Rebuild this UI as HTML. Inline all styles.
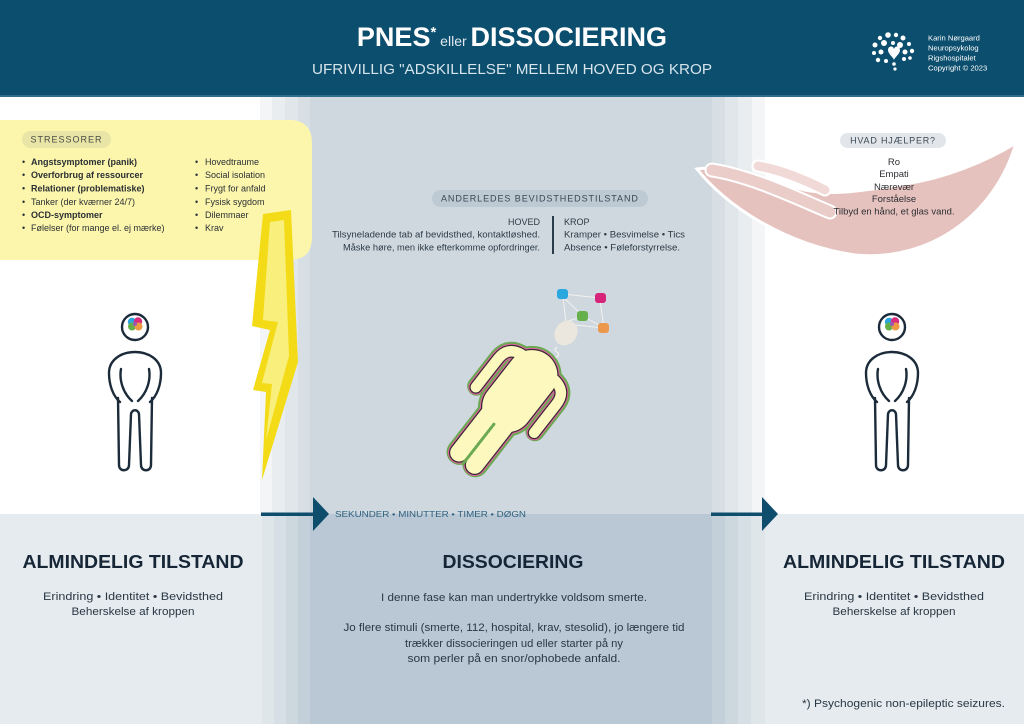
<!DOCTYPE html>
<html><head><meta charset="utf-8"><style>
html,body{margin:0;padding:0;background:#fff;}
svg{display:block;}
text{font-family:"Liberation Sans",sans-serif;}
</style></head><body>
<svg width="1024" height="724" viewBox="0 0 1024 724" xmlns="http://www.w3.org/2000/svg">
<!-- backgrounds -->
<rect x="0" y="0" width="1024" height="724" fill="#ffffff"/>
<!-- upper bands -->
<rect x="260" y="97" width="12" height="417" fill="#f3f5f7"/>
<rect x="272" y="97" width="13" height="417" fill="#e9edf0"/>
<rect x="285" y="97" width="13" height="417" fill="#e0e6ea"/>
<rect x="298" y="97" width="12" height="417" fill="#d8dfe4"/>
<rect x="310" y="97" width="402" height="417" fill="#cfd8df"/>
<rect x="712" y="97" width="13" height="417" fill="#d8dfe4"/>
<rect x="725" y="97" width="13" height="417" fill="#e0e6ea"/>
<rect x="738" y="97" width="14" height="417" fill="#e9edf0"/>
<rect x="752" y="97" width="13" height="417" fill="#f3f5f7"/>
<!-- lower -->
<rect x="0" y="514" width="1024" height="210" fill="#e5ebee"/>
<rect x="262" y="514" width="12" height="210" fill="#dfe6ea"/>
<rect x="274" y="514" width="12" height="210" fill="#d6dfe5"/>
<rect x="286" y="514" width="12" height="210" fill="#ccd7de"/>
<rect x="298" y="514" width="12" height="210" fill="#c3d0d9"/>
<rect x="310" y="514" width="402" height="210" fill="#b9c8d4"/>
<rect x="712" y="514" width="13" height="210" fill="#c3d0d9"/>
<rect x="725" y="514" width="13" height="210" fill="#ccd7de"/>
<rect x="738" y="514" width="13" height="210" fill="#d6dfe5"/>
<rect x="751" y="514" width="14" height="210" fill="#dfe6ea"/>

<!-- header -->
<rect x="0" y="0" width="1024" height="97" fill="#0c4e6d"/>
<rect x="0" y="95" width="1024" height="2" fill="#2f6d8a"/>
<text x="512" y="46" text-anchor="middle" fill="#ffffff"><tspan font-weight="bold" font-size="27">PNES</tspan><tspan font-weight="bold" font-size="15" dy="-9">*</tspan><tspan font-size="14" dy="9" fill="#dfe9ef"> eller </tspan><tspan font-weight="bold" font-size="27">DISSOCIERING</tspan></text>
<text x="512" y="74" text-anchor="middle" fill="#d6e4ec" font-size="15" textLength="400" lengthAdjust="spacingAndGlyphs">UFRIVILLIG "ADSKILLELSE" MELLEM HOVED OG KROP</text>
<!-- logo -->
<g fill="#ffffff">
<circle cx="880" cy="38" r="2.2"/><circle cx="888" cy="35" r="2.8"/><circle cx="896" cy="35" r="2.2"/><circle cx="903" cy="38" r="2.5"/>
<circle cx="875" cy="45" r="2.5"/><circle cx="884" cy="43" r="3"/><circle cx="893" cy="43" r="2"/><circle cx="900" cy="45" r="3"/><circle cx="909" cy="44" r="2"/>
<circle cx="874" cy="53" r="2"/><circle cx="881" cy="52" r="2.5"/><circle cx="905" cy="52" r="2.5"/><circle cx="912" cy="51" r="2.2"/>
<circle cx="878" cy="60" r="2.2"/><circle cx="886" cy="61" r="2"/><circle cx="904" cy="59" r="2"/><circle cx="910" cy="58" r="1.8"/>
<path d="M888 50 C888 46,893 45,894 49 C895 45,900 46,900 50 C900 54,894 58,894 60 C894 58,888 54,888 50 Z"/>
<circle cx="894" cy="64" r="1.8"/><circle cx="895" cy="69" r="1.6"/>
</g>
<g fill="#ffffff" font-size="7.6">
<text x="928" y="40.5">Karin Nørgaard</text>
<text x="928" y="50.5">Neuropsykolog</text>
<text x="928" y="60.5">Rigshospitalet</text>
<text x="928" y="70.5">Copyright © 2023</text>
</g>

<!-- stressorer box -->
<path d="M0 120 H289 Q312 120 312 143 V237 Q312 260 289 260 H0 Z" fill="#fcf6ad"/>
<rect x="22" y="131" width="89" height="17" rx="8.5" fill="#e9e5a6"/>
<text x="66.5" y="142.5" text-anchor="middle" font-size="9" fill="#4a4d45" letter-spacing="1">STRESSORER</text>
<g font-size="9" fill="#2a2f33">
<text x="22" y="165">•</text><text x="31" y="165" font-weight="bold">Angstsymptomer (panik)</text>
<text x="22" y="178">•</text><text x="31" y="178" font-weight="bold">Overforbrug af ressourcer</text>
<text x="22" y="191.5">•</text><text x="31" y="191.5" font-weight="bold">Relationer (problematiske)</text>
<text x="22" y="205">•</text><text x="31" y="205">Tanker (der kværner 24/7)</text>
<text x="22" y="218">•</text><text x="31" y="218" font-weight="bold">OCD-symptomer</text>
<text x="22" y="231">•</text><text x="31" y="231">Følelser (for mange el. ej mærke)</text>
<text x="195" y="165">•</text><text x="205" y="165">Hovedtraume</text>
<text x="195" y="178">•</text><text x="205" y="178">Social isolation</text>
<text x="195" y="191.5">•</text><text x="205" y="191.5">Frygt for anfald</text>
<text x="195" y="205">•</text><text x="205" y="205">Fysisk sygdom</text>
<text x="195" y="218">•</text><text x="205" y="218">Dilemmaer</text>
<text x="195" y="231">•</text><text x="205" y="231">Krav</text>
</g>

<!-- lightning -->
<path d="M263 214 L291 210 L298 362 L262 480 L266 392 L253 390 L270 330 L252 326 Z" fill="#f3dc17"/>
<path d="M270 222 L284 220 L289 356 L266 440 L272 384 L262 383 L278 322 L263 320 Z" fill="#f9ef7c"/>

<!-- middle top -->
<rect x="432" y="190" width="216" height="17" rx="8.5" fill="#bdc9d3"/>
<text x="540" y="201.5" text-anchor="middle" font-size="9" fill="#3a4955" letter-spacing="1.1" textLength="198">ANDERLEDES BEVIDSTHEDSTILSTAND</text>
<g font-size="9" fill="#2c3a46">
<text x="540" y="225" text-anchor="end">HOVED</text>
<text x="540" y="237.5" text-anchor="end" textLength="208" lengthAdjust="spacingAndGlyphs">Tilsyneladende tab af bevidsthed, kontaktløshed.</text>
<text x="540" y="250.5" text-anchor="end" textLength="197" lengthAdjust="spacingAndGlyphs">Måske høre, men ikke efterkomme opfordringer.</text>
<text x="564" y="225">KROP</text>
<text x="564" y="237.5" textLength="121" lengthAdjust="spacingAndGlyphs">Kramper •  Besvimelse • Tics</text>
<text x="564" y="250.5" textLength="116" lengthAdjust="spacingAndGlyphs">Absence • Føleforstyrrelse.</text>
</g>
<rect x="552" y="216" width="2" height="38" fill="#2a3c4c"/>

<!-- right hand -->
<g>
<path d="M697 169 C725 205,785 245,855 255 C930 262,995 215,1016 143 C985 162,945 178,905 184 C865 190,835 196,805 190 C765 182,725 164,697 169 Z" fill="#e6c2bf" stroke="#ffffff" stroke-width="3"/>
<path d="M712 170 C750 176,790 195,830 212" stroke="#ffffff" stroke-width="15" fill="none" stroke-linecap="round"/>
<path d="M712 170 C750 176,790 195,830 212" stroke="#eaccc9" stroke-width="11" fill="none" stroke-linecap="round"/>
<path d="M758 166 C782 170,805 180,825 190" stroke="#ffffff" stroke-width="13" fill="none" stroke-linecap="round"/>
<path d="M758 166 C782 170,805 180,825 190" stroke="#f0d9d6" stroke-width="9" fill="none" stroke-linecap="round"/>
</g>
<rect x="840" y="133" width="106" height="15" rx="7.5" fill="#e2e6ea"/>
<text x="893" y="143.5" text-anchor="middle" font-size="9" fill="#3a4955" letter-spacing="0.8">HVAD HJÆLPER?</text>
<g font-size="9.5" fill="#2c2f33" text-anchor="middle">
<text x="894" y="165">Ro</text>
<text x="894" y="177">Empati</text>
<text x="894" y="190">Nærevær</text>
<text x="894" y="202">Forståelse</text>
<text x="894" y="214.5">Tilbyd en hånd, et glas vand.</text>
</g>

<!-- left figure -->
<g transform="translate(135,0)" fill="none" stroke="#1c2b3a" stroke-width="2.4" stroke-linecap="round" stroke-linejoin="round">
<circle cx="0" cy="327" r="13" fill="#ffffff"/>
<path d="M-15 402 C-22 396,-26 385,-26 373 C-26 360,-14 352,0 352 C14 352,26 360,26 373 C26 385,22 396,15 402"/>
<path d="M-14 369 C-16 380,-12 393,-3 401 M14 369 C16 380,12 393,3 401"/>
<path d="M-17 398 L-16 465 C-16 472,-6 472,-6 465 L-4 414 C-3 409,3 409,4 414 L6 465 C6 472,16 472,16 465 L17 398"/>
</g>
<g transform="translate(135,324)">
<circle cx="-3" cy="-2" r="4.2" fill="#2aa6df"/><circle cx="3" cy="-2.5" r="4.2" fill="#d92c7f"/>
<circle cx="-3" cy="2.5" r="4" fill="#63b04a"/><circle cx="3.5" cy="2.5" r="4" fill="#ee9a42"/>
<circle cx="0" cy="0" r="2" fill="#9b59b6"/>
</g>

<!-- right figure -->
<g transform="translate(892,0)" fill="none" stroke="#1c2b3a" stroke-width="2.4" stroke-linecap="round" stroke-linejoin="round">
<circle cx="0" cy="327" r="13" fill="#ffffff"/>
<path d="M-15 402 C-22 396,-26 385,-26 373 C-26 360,-14 352,0 352 C14 352,26 360,26 373 C26 385,22 396,15 402"/>
<path d="M-14 369 C-16 380,-12 393,-3 401 M14 369 C16 380,12 393,3 401"/>
<path d="M-17 398 L-16 465 C-16 472,-6 472,-6 465 L-4 414 C-3 409,3 409,4 414 L6 465 C6 472,16 472,16 465 L17 398"/>
</g>
<g transform="translate(892,324)">
<circle cx="-3" cy="-2" r="4.2" fill="#2aa6df"/><circle cx="3" cy="-2.5" r="4.2" fill="#d92c7f"/>
<circle cx="-3" cy="2.5" r="4" fill="#63b04a"/><circle cx="3.5" cy="2.5" r="4" fill="#ee9a42"/>
<circle cx="0" cy="0" r="2" fill="#9b59b6"/>
</g>

<!-- middle lying figure -->
<g stroke="#f2f2ee" stroke-width="1" fill="none">
<path d="M566 322 L563 297 M566 322 L583 316 M566 324 L604 328 M563 294 L600 298 M563 297 L583 316 M600 300 L604 328 M583 316 L604 328"/>
</g>
<path d="M557 347 q-4 3 0 5 q4 3 -2 6" stroke="#f2f2ee" stroke-width="1.2" fill="none"/>
<ellipse cx="566" cy="333" rx="11" ry="13" transform="rotate(35 566 333)" fill="#ebe7de"/>
<g>
<rect x="557" y="289" width="11" height="10" rx="3" fill="#29a8e0"/>
<rect x="595" y="293" width="11" height="10" rx="3" fill="#d8237b"/>
<rect x="577" y="311" width="11" height="10" rx="3" fill="#66b04c"/>
<rect x="598" y="323" width="11" height="10" rx="3" fill="#eb984c"/>
</g>
<g transform="translate(505,410) rotate(38)" fill="none" stroke-linecap="round" stroke-linejoin="round">
<g stroke="#6aaa52" stroke-dasharray="2 1.5">
<path d="M0 -44 L0 -4" stroke-width="59"/>
<path d="M-21 -54 Q-37 -52 -37 -36 L-37 0" stroke-width="19"/>
<path d="M21 -54 Q37 -52 37 -36 L37 0" stroke-width="19"/>
<path d="M-10 10 L-10 62" stroke-width="26"/>
<path d="M10 10 L10 62" stroke-width="26"/>
</g>
<g stroke="#e0649f">
<path d="M0 -44 L0 -4" stroke-width="55"/>
<path d="M-21 -54 Q-37 -52 -37 -36 L-37 0" stroke-width="15"/>
<path d="M21 -54 Q37 -52 37 -36 L37 0" stroke-width="15"/>
<path d="M-10 10 L-10 62" stroke-width="22"/>
<path d="M10 10 L10 62" stroke-width="22"/>
</g>
<g stroke="#3b2a36">
<path d="M0 -44 L0 -4" stroke-width="53"/>
<path d="M-21 -54 Q-37 -52 -37 -36 L-37 0" stroke-width="13"/>
<path d="M21 -54 Q37 -52 37 -36 L37 0" stroke-width="13"/>
<path d="M-10 10 L-10 62" stroke-width="20"/>
<path d="M10 10 L10 62" stroke-width="20"/>
</g>
<g stroke="#fdf8bd">
<path d="M0 -44 L0 -4" stroke-width="50.5"/>
<path d="M-21 -54 Q-37 -52 -37 -36 L-37 0" stroke-width="10.5"/>
<path d="M21 -54 Q37 -52 37 -36 L37 0" stroke-width="10.5"/>
<path d="M-10 10 L-10 62" stroke-width="17.5"/>
<path d="M10 10 L10 62" stroke-width="17.5"/>
</g>
<path d="M0 18 L0 68" stroke="#6aaa52" stroke-width="3" stroke-dasharray="2 2"/>
</g>

<!-- arrows -->
<g fill="#0f4d6c">
<rect x="261" y="512.5" width="54" height="3.5"/>
<polygon points="313,497 329,514 313,531"/>
<rect x="711" y="512.5" width="54" height="3.5"/>
<polygon points="762,497 778,514 762,531"/>
</g>
<text x="335" y="517" font-size="8.5" fill="#2d5f7e" textLength="191" lengthAdjust="spacingAndGlyphs">SEKUNDER • MINUTTER • TIMER • DØGN</text>

<!-- bottom text -->
<g fill="#162637" font-weight="bold" font-size="18.5" text-anchor="middle">
<text x="133" y="568" textLength="221" lengthAdjust="spacingAndGlyphs">ALMINDELIG TILSTAND</text>
<text x="513" y="568" textLength="141" lengthAdjust="spacingAndGlyphs">DISSOCIERING</text>
<text x="894" y="568" textLength="222" lengthAdjust="spacingAndGlyphs">ALMINDELIG TILSTAND</text>
</g>
<g fill="#2a3744" font-size="11" text-anchor="middle">
<text x="133" y="600" textLength="180" lengthAdjust="spacingAndGlyphs">Erindring  •  Identitet  •  Bevidsthed</text>
<text x="133" y="615" textLength="123" lengthAdjust="spacingAndGlyphs">Beherskelse af kroppen</text>
<text x="894" y="600" textLength="180" lengthAdjust="spacingAndGlyphs">Erindring  •  Identitet  •  Bevidsthed</text>
<text x="894" y="615" textLength="123" lengthAdjust="spacingAndGlyphs">Beherskelse af kroppen</text>
<text x="514" y="601" textLength="266" lengthAdjust="spacingAndGlyphs">I denne fase kan man undertrykke voldsom smerte.</text>
<text x="514" y="631" textLength="341" lengthAdjust="spacingAndGlyphs">Jo flere stimuli (smerte, 112, hospital, krav, stesolid), jo længere tid</text>
<text x="514" y="647" textLength="218" lengthAdjust="spacingAndGlyphs">trækker dissocieringen ud eller starter på ny</text>
<text x="514" y="662" textLength="213" lengthAdjust="spacingAndGlyphs">som perler på en snor/ophobede anfald.</text>
</g>
<text x="1005" y="707" text-anchor="end" font-size="11" fill="#2a3744" textLength="203" lengthAdjust="spacingAndGlyphs">*) Psychogenic non-epileptic seizures.</text>
</svg>
</body></html>
